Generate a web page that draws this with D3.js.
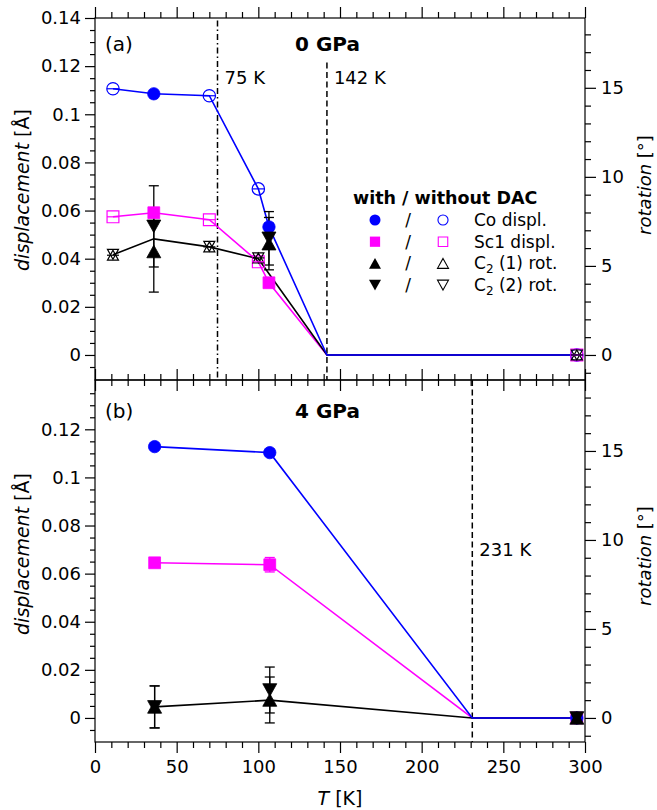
<!DOCTYPE html>
<head>
<meta charset="utf-8">
<script src="https://d3js.org/d3.v7.min.js"></script>
<style>
  body { margin:0; background:white; }
  text { font-family: "DejaVu Sans", sans-serif; fill: black; }
  .axis text { font-size: 18px; }
  .axis line { stroke: black; stroke-width: 1.2px; }
</style>
</head>
<body>
<script>
// ---- data ----
// temperatures in K, displacements in Angstrom, rotations in degrees

// (a) 0 GPa, with DAC (filled symbols)
var tA_dac      = [36, 106.5];
var coA_dac     = [0.1085, 0.0532];
var coA_dacErr  = [0.0008, 0.0015];
var scA_dac     = [0.0591, 0.0300];
var scA_dacErr  = [0.001, 0.001];
var rot1A_dac   = [5.81, 6.25];
var rot1A_err   = [2.28, 1.47];
var rot2A_dac   = [7.22, 6.55];
var rot2A_err   = [2.28, 1.5];

// (a) 0 GPa, without DAC (open symbols)
var tA_free     = [11, 70, 100, 295];
var coA_free    = [0.1106, 0.1077, 0.0690, 0];
var scA_free    = [0.0574, 0.0562, 0.0387, 0];
var rot1A_free  = [5.6, 6.07, 5.45, 0];
var rot2A_free  = [5.65, 6.1, 5.45, 0];

// (a) connecting lines
var tA_line     = [11, 36, 70, 100, 106.5, 142, 295];
var coA_line    = [0.1106, 0.1085, 0.1077, 0.0690, 0.0532, 0, 0];
var scA_line    = [0.0574, 0.0591, 0.0562, 0.0387, 0.0300, 0, 0];
var tA_rotLine  = [11, 36, 70, 100, 142, 295];
var rotA_line   = [5.62, 6.52, 6.07, 5.4, 0, 0];

// (b) 4 GPa, with DAC
var tB          = [36.5, 107, 295];
var coB         = [0.1128, 0.1103, 0];
var coB_err     = [0.0008, 0.001, 0];
var scB         = [0.0645, 0.0637, 0];
var scB_err     = [0.001, 0.003, 0];
var rot1B       = [0.62, 1.01, 0];
var rot1B_err   = [1.18, 1.29, 0];
var rot2B       = [0.62, 1.57, 0];
var rot2B_err   = [1.18, 1.29, 0];

var tB_line     = [36.5, 107, 231, 295];
var coB_line    = [0.1128, 0.1103, 0, 0];
var scB_line    = [0.0645, 0.0637, 0, 0];
var rotB_line   = [0.62, 1.0, 0, 0];

// transition temperatures
var transA = [{t: 75, label: "75 K", dash: "6,3,1.5,3", top: 0.139}, {t: 142, label: "142 K", dash: "6,3.5", top: 0.1215}];
var transB = [{t: 231, label: "231 K", dash: "6,3.5", top: 0.1405}];

// tick labels
var dispTicksA = [0, 0.02, 0.04, 0.06, 0.08, 0.1, 0.12, 0.14];
var dispTicksB = [0, 0.02, 0.04, 0.06, 0.08, 0.1, 0.12];
var rotTicks   = [0, 5, 10, 15];
var tempTicks  = [0, 50, 100, 150, 200, 250, 300];

// legend
var legendRows = [
  {sym: "circle", color: "#0000ff", name: "Co displ."},
  {sym: "square", color: "#ff00ff", name: "Sc1 displ."},
  {sym: "up",     color: "black",   name: "C", sub: "2", rest: " (1) rot."},
  {sym: "down",   color: "black",   name: "C", sub: "2", rest: " (2) rot."}
];

// ---- layout ----
var W = 657, H = 810;
var L = 95, R = 585;
var degA = 0.0074; // one degree on the right axis = 0.0074 A on the left axis

var svg = d3.select("body").append("svg").attr("width", W).attr("height", H);

var x = d3.scaleLinear().domain([0, 300]).range([L, R]);

var yA = d3.scaleLinear().domain([-0.0104, 0.14]).range([380, 18]);
var rA = d3.scaleLinear().domain([-0.0104 / degA, 0.14 / degA]).range([380, 18]);
var yB = d3.scaleLinear().domain([-0.0100, 0.1405]).range([742, 380]);
var rB = d3.scaleLinear().domain([-0.0100 / degA, 0.1405 / degA]).range([742, 380]);

var fmt = function(d) { return d === 0 ? "0" : String(+d.toFixed(2)); };
function minor(a, b, step, majors) {
  return d3.range(a, b + step / 2, step).map(function(v) { return Math.round(v * 1000) / 1000; })
    .filter(function(v) { return majors.indexOf(v) < 0; });
}
function noDomain(s) { s.select(".domain").remove(); }

function axes(y, r, top, bottom, dispTicks, dispMax, rotMax, lowerPanel) {
  var g = svg.append("g").attr("class", "axis");
  // left
  g.append("g").attr("transform", "translate(" + L + ",0)")
    .call(d3.axisLeft(y).tickValues(dispTicks).tickSize(10).tickPadding(4).tickFormat(fmt).tickSizeOuter(0))
    .call(noDomain);
  g.append("g").attr("transform", "translate(" + L + ",0)")
    .call(d3.axisLeft(y).tickValues(minor(-0.005, dispMax, 0.005, dispTicks)).tickSize(5).tickFormat("").tickSizeOuter(0))
    .call(noDomain);
  // right
  g.append("g").attr("transform", "translate(" + R + ",0)")
    .call(d3.axisRight(r).tickValues(rotTicks).tickSize(11).tickPadding(5).tickSizeOuter(0))
    .call(noDomain);
  g.append("g").attr("transform", "translate(" + R + ",0)")
    .call(d3.axisRight(r).tickValues(minor(-1, rotMax, 1, rotTicks)).tickSize(6).tickFormat("").tickSizeOuter(0))
    .call(noDomain);
  // top edge ticks point up, bottom edge ticks point down
  var minT = minor(10, 290, 10, tempTicks);
  g.append("g").attr("transform", "translate(0," + top + ")")
    .call(d3.axisTop(x).tickValues(tempTicks).tickSize(11).tickFormat("").tickSizeOuter(0))
    .call(noDomain);
  g.append("g").attr("transform", "translate(0," + top + ")")
    .call(d3.axisTop(x).tickValues(minT).tickSize(6).tickFormat("").tickSizeOuter(0))
    .call(noDomain);
  g.append("g").attr("transform", "translate(0," + bottom + ")")
    .call(d3.axisBottom(x).tickValues(tempTicks).tickSize(11).tickPadding(7)
      .tickFormat(lowerPanel ? d3.format("d") : "").tickSizeOuter(0))
    .call(noDomain);
  g.append("g").attr("transform", "translate(0," + bottom + ")")
    .call(d3.axisBottom(x).tickValues(minT).tickSize(6).tickFormat("").tickSizeOuter(0))
    .call(noDomain);
  svg.append("rect").attr("x", L).attr("y", top).attr("width", R - L).attr("height", bottom - top)
    .attr("fill", "none").attr("stroke", "black").attr("stroke-width", 1.2);
}

// triangles centred on their bounding box, like the original plot
function tri(w, h, down) {
  var s = down ? -1 : 1;
  return "M0," + (-s * h / 2) + "L" + (w / 2) + "," + (s * h / 2) + "L" + (-w / 2) + "," + (s * h / 2) + "Z";
}
function symPath(kind, size) {
  if (kind === "circle") return d3.symbol(d3.symbolCircle, size || 120)();
  if (kind === "square") return d3.symbol(d3.symbolSquare, size || 140)();
  var w = size || 14;
  return tri(w, w * 0.9, kind === "down");
}

function markers(g, ts, vs, y, kind, color, filled, size) {
  g.selectAll(null).data(ts.map(function(t, i) { return [t, vs[i]]; })).enter()
    .append("path")
    .attr("d", symPath(kind, size))
    .attr("transform", function(d) { return "translate(" + x(d[0]) + "," + y(d[1]) + ")"; })
    .attr("fill", filled ? color : "none")
    .attr("stroke", color)
    .attr("stroke-width", filled ? 0.8 : 1.2);
}

// small horizontal bars through the open (without DAC) symbols
function hbars(g, ts, vs, y, color) {
  ts.forEach(function(t, i) {
    g.append("line").attr("x1", x(t) - 6).attr("x2", x(t) + 6)
      .attr("y1", y(vs[i])).attr("y2", y(vs[i]))
      .attr("stroke", color).attr("stroke-width", 1.2);
  });
}

function errbars(g, ts, vs, es, y, color) {
  ts.forEach(function(t, i) {
    if (!es[i]) return;
    var cx = x(t), y1 = y(vs[i] - es[i]), y2 = y(vs[i] + es[i]);
    g.append("line").attr("x1", cx).attr("x2", cx).attr("y1", y1).attr("y2", y2)
      .attr("stroke", color).attr("stroke-width", 1.3);
    [y1, y2].forEach(function(yy) {
      g.append("line").attr("x1", cx - 5).attr("x2", cx + 5).attr("y1", yy).attr("y2", yy)
        .attr("stroke", color).attr("stroke-width", 1.3);
    });
  });
}

function dataLine(g, ts, vs, y, color) {
  g.append("path")
    .datum(ts.map(function(t, i) { return [t, vs[i]]; }))
    .attr("d", d3.line().x(function(d) { return x(d[0]); }).y(function(d) { return y(d[1]); }))
    .attr("fill", "none").attr("stroke", color).attr("stroke-width", 1.6);
}

function transitions(g, list, y, top, bottom, labelY) {
  list.forEach(function(d) {
    g.append("line").attr("x1", x(d.t)).attr("x2", x(d.t))
      .attr("y1", y(d.top)).attr("y2", bottom)
      .attr("stroke", "black").attr("stroke-width", 1.5).attr("stroke-dasharray", d.dash);
    g.append("text").attr("x", x(d.t) + 7).attr("y", labelY)
      .style("font-size", "18px").text(d.label);
  });
}

// ---- panel (a) ----
axes(yA, rA, 18, 380, dispTicksA, 0.14, 18, false);
var gA = svg.append("g");
transitions(gA, transA, yA, 18, 380, 84);
dataLine(gA, tA_line, scA_line, yA, "#ff00ff");
dataLine(gA, tA_rotLine, rotA_line, rA, "black");
dataLine(gA, tA_line, coA_line, yA, "#0000ff");
errbars(gA, tA_dac, rot2A_dac, rot2A_err, rA, "black");
errbars(gA, tA_dac, rot1A_dac, rot1A_err, rA, "black");
errbars(gA, tA_dac, coA_dac, coA_dacErr, yA, "#0000ff");
errbars(gA, tA_dac, scA_dac, scA_dacErr, yA, "#ff00ff");
markers(gA, tA_free, coA_free, yA, "circle", "#0000ff", false);
markers(gA, tA_free, scA_free, yA, "square", "#ff00ff", false);
markers(gA, tA_free, rot1A_free, rA, "up", "black", false, 11);
markers(gA, tA_free, rot2A_free, rA, "down", "black", false, 11);
hbars(gA, tA_free, coA_free, yA, "#0000ff");
hbars(gA, tA_free, scA_free, yA, "#ff00ff");
hbars(gA, tA_free, rot1A_free, rA, "black");
markers(gA, tA_dac, scA_dac, yA, "square", "#ff00ff", true);
markers(gA, tA_dac, coA_dac, yA, "circle", "#0000ff", true);
markers(gA, tA_dac, rot2A_dac, rA, "down", "black", true);
markers(gA, tA_dac, rot1A_dac, rA, "up", "black", true);

gA.append("text").attr("x", 105).attr("y", 51).style("font-size", "20px").text("(a)");
gA.append("text").attr("x", 295).attr("y", 51).style("font-size", "20px").style("font-weight", "bold").text("0 GPa");

// legend
var lg = svg.append("g");
lg.append("text").attr("x", 353).attr("y", 204).style("font-size", "17.5px").style("font-weight", "bold")
  .text("with / without DAC");
legendRows.forEach(function(d, i) {
  var cy = 220 + i * 21.7;
  lg.append("path").attr("d", symPath(d.sym, d.sym === "circle" ? 95 : (d.sym === "square" ? 105 : 12)))
    .attr("transform", "translate(375," + cy + ")").attr("fill", d.color);
  lg.append("text").attr("x", 408).attr("y", cy + 6).attr("text-anchor", "middle").style("font-size", "17px").text("/");
  lg.append("path").attr("d", symPath(d.sym, d.sym === "circle" ? 80 : (d.sym === "square" ? 90 : 11)))
    .attr("transform", "translate(443," + cy + ")").attr("fill", "none")
    .attr("stroke", d.color).attr("stroke-width", 1.1);
  var tx = lg.append("text").attr("x", 474).attr("y", cy + 6).style("font-size", "17px").text(d.name);
  if (d.sub) {
    tx.append("tspan").attr("dy", 4).style("font-size", "12px").text(d.sub);
    tx.append("tspan").attr("dy", -4).text(d.rest);
  }
});

// ---- panel (b) ----
axes(yB, rB, 380, 742, dispTicksB, 0.135, 18, true);
var gB = svg.append("g");
transitions(gB, transB, yB, 380, 742, 556);
dataLine(gB, tB_line, scB_line, yB, "#ff00ff");
dataLine(gB, tB_line, rotB_line, rB, "black");
dataLine(gB, tB_line, coB_line, yB, "#0000ff");
errbars(gB, tB, rot2B, rot2B_err, rB, "black");
errbars(gB, tB, rot1B, rot1B_err, rB, "black");
errbars(gB, tB, coB, coB_err, yB, "#0000ff");
errbars(gB, tB, scB, scB_err, yB, "#ff00ff");
markers(gB, tB, scB, yB, "square", "#ff00ff", true);
markers(gB, tB, coB, yB, "circle", "#0000ff", true);
markers(gB, tB, rot2B, rB, "down", "black", true);
markers(gB, tB, rot1B, rB, "up", "black", true);

gB.append("text").attr("x", 105).attr("y", 418).style("font-size", "20px").text("(b)");
gB.append("text").attr("x", 295).attr("y", 418).style("font-size", "20px").style("font-weight", "bold").text("4 GPa");

// ---- axis titles ----
[190, 554].forEach(function(cy) {
  var t = svg.append("text").attr("transform", "translate(29," + cy + ") rotate(-90)")
    .attr("text-anchor", "middle").style("font-size", "19px");
  t.append("tspan").style("font-style", "italic").text("displacement");
  t.append("tspan").text(" [Å]");
});
[185, 556].forEach(function(cy) {
  var t = svg.append("text").attr("transform", "translate(651," + cy + ") rotate(-90)")
    .attr("text-anchor", "middle").style("font-size", "18px");
  t.append("tspan").style("font-style", "italic").text("rotation");
  t.append("tspan").text(" [°]");
});
var xt = svg.append("text").attr("x", 340).attr("y", 805).attr("text-anchor", "middle").style("font-size", "19px");
xt.append("tspan").style("font-style", "italic").text("T");
xt.append("tspan").text(" [K]");
</script>
</body>
